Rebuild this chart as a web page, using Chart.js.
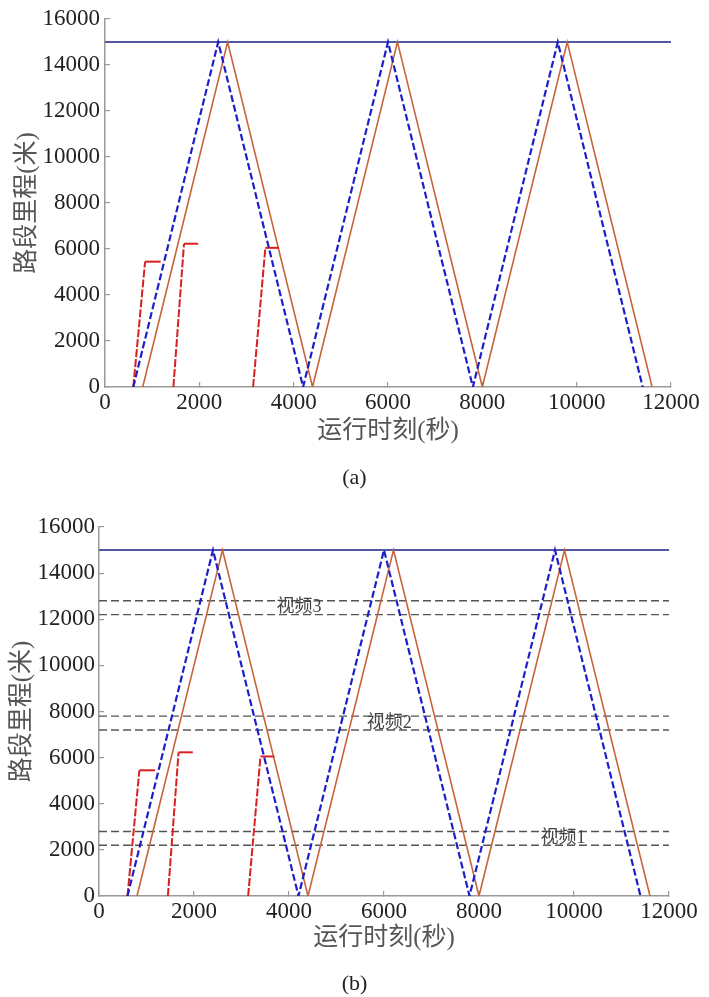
<!DOCTYPE html>
<html>
<head>
<meta charset="utf-8">
<script src="https://cdn.jsdelivr.net/npm/chart.js@4.4.1/dist/chart.umd.min.js"></script>
<style>
  body { margin: 0; background: #fff; width: 709px; height: 997px; position: relative; overflow: hidden; }
  canvas { position: absolute; left: 0; }
  #chartA { top: 0; }
  #chartB { top: 500px; }
  .cap { position: absolute; left: 0; width: 709px; text-align: center; font: 22px 'Liberation Serif', serif; line-height: 22px; color: #222; }
</style>
</head>
<body>
<canvas id="chartA" width="709" height="500"></canvas>
<canvas id="chartB" width="709" height="497"></canvas>
<div class="cap" style="top:466px">(a)</div>
<div class="cap" style="top:972px">(b)</div>
<script>
// train runs (time in s, distance in m)
const blueTime = [600, 2400, 4200, 6000, 7800, 9600, 11400];
const blueDist = [0, 15000, 0, 15000, 0, 15000, 0];
const orangeTime = [800, 2600, 4400, 6200, 8000, 9800, 11600];
const orangeDist = [0, 15000, 0, 15000, 0, 15000, 0];
const red1Time = [600, 850, 1180];
const red1Dist = [0, 5450, 5450];
const red2Time = [1450, 1675, 1975];
const red2Dist = [0, 6230, 6230];
const red3Time = [3140, 3400, 3690];
const red3Dist = [0, 6050, 6050];
const lineEndTime = [0, 12000];
const lineEndDist = [15000, 15000];

// video sections (only in b)
const videoLevels = [12800, 12200, 7800, 7200, 2800, 2200];
const videoNames = ['视频3', '视频2', '视频1'];
const videoNameTime = [4210, 6110, 9766];
const videoNameDist = [12500, 7500, 2500];

const xTicks = [0, 2000, 4000, 6000, 8000, 10000, 12000];
const yTicks = [0, 2000, 4000, 6000, 8000, 10000, 12000, 14000, 16000];

const CN = "'Liberation Serif', 'Noto Sans CJK SC', serif";

function pts(xs, ys) {
    return xs.map((x, i) => ({x: x, y: ys[i]}));
}

function baseDatasets() {
    const redDash = ctx => ctx.p0.parsed.y === ctx.p1.parsed.y ? [] : [8, 2];
    return [
        {data: pts(blueTime, blueDist), borderColor: '#1e1ec8', borderWidth: 2.2, borderDash: [7, 3]},
        {data: pts(red1Time, red1Dist), borderColor: '#d82020', borderWidth: 2, segment: {borderDash: redDash}},
        {data: pts(red2Time, red2Dist), borderColor: '#d82020', borderWidth: 2, segment: {borderDash: redDash}},
        {data: pts(red3Time, red3Dist), borderColor: '#d82020', borderWidth: 2, segment: {borderDash: redDash}},
        {data: pts(orangeTime, orangeDist), borderColor: '#c8643c', borderWidth: 1.6},
        {data: pts(lineEndTime, lineEndDist), borderColor: '#5656a6', borderWidth: 2}
    ];
}

const videoLabelPlugin = {
    id: 'videoLabels',
    afterDatasetsDraw(chart, args, opts) {
        if (!opts.show) return;
        const ctx = chart.ctx;
        ctx.save();
        ctx.font = "18px " + CN;
        ctx.fillStyle = '#444';
        ctx.textAlign = 'center';
        ctx.textBaseline = 'middle';
        videoNames.forEach((name, i) => {
            ctx.fillText(name, chart.scales.x.getPixelForValue(videoNameTime[i]), chart.scales.y.getPixelForValue(videoNameDist[i]));
        });
        ctx.restore();
    }
};

function makeChart(id, p) {
    const datasets = baseDatasets();
    if (p.video) {
        videoLevels.forEach(v => {
            datasets.push({data: pts(lineEndTime, [v, v]), borderColor: '#555', borderWidth: 1.4, borderDash: [8, 4]});
        });
    }
    datasets.forEach(d => { d.pointRadius = 0; d.tension = 0; d.showLine = true; d.fill = false; });

    // fixed plot box: no automatic label padding
    const noPad = s => { s.paddingTop = 0; s.paddingBottom = 0; s.paddingLeft = 0; s.paddingRight = 0; };

    return new Chart(document.getElementById(id).getContext('2d'), {
        type: 'scatter',
        data: {datasets: datasets},
        options: {
            responsive: false,
            animation: false,
            events: [],
            layout: {padding: {left: 0, right: p.right, top: p.top, bottom: 0}},
            plugins: {
                legend: {display: false},
                tooltip: {enabled: false},
                videoLabels: {show: p.video}
            },
            scales: {
                x: {
                    type: 'linear', min: 0, max: 12000,
                    afterBuildTicks: s => { s.ticks = xTicks.map(v => ({value: v})); },
                    afterFit: s => { s.height = p.xh; noPad(s); },
                    grid: {drawOnChartArea: false, tickLength: -5, color: '#9a9a9a', lineWidth: 1.2},
                    border: {color: '#9a9a9a', width: 1.5},
                    ticks: {padding: 7, color: '#222', maxRotation: 0, font: {family: 'Liberation Serif', size: 23},
                            callback: v => String(v)},
                    title: {display: true, text: '运行时刻(秒)', color: '#555', font: {family: CN, size: 25}, padding: {top: 0, bottom: p.xtPad}}
                },
                y: {
                    type: 'linear', min: 0, max: 16000,
                    afterBuildTicks: s => { s.ticks = yTicks.map(v => ({value: v})); },
                    afterFit: s => { s.width = p.yw; noPad(s); },
                    grid: {drawOnChartArea: false, tickLength: -5, color: '#9a9a9a', lineWidth: 1.2},
                    border: {color: '#9a9a9a', width: 1.5},
                    ticks: {padding: p.ytPad, color: '#222', font: {family: 'Liberation Serif', size: 23},
                            callback: v => String(v)},
                    title: {display: true, text: '路段里程(米)', color: '#555', font: {family: CN, size: 25}, padding: {top: p.ylPad, bottom: 0}}
                }
            }
        },
        plugins: [videoLabelPlugin]
    });
}

makeChart('chartA', {top: 19, right: 38, yw: 105, xh: 113, xtPad: 54, ytPad: 10, ylPad: 12, video: false});
makeChart('chartB', {top: 27, right: 40, yw: 99, xh: 101, xtPad: 44, ytPad: 9, ylPad: 7, video: true});
</script>
</body>
</html>
